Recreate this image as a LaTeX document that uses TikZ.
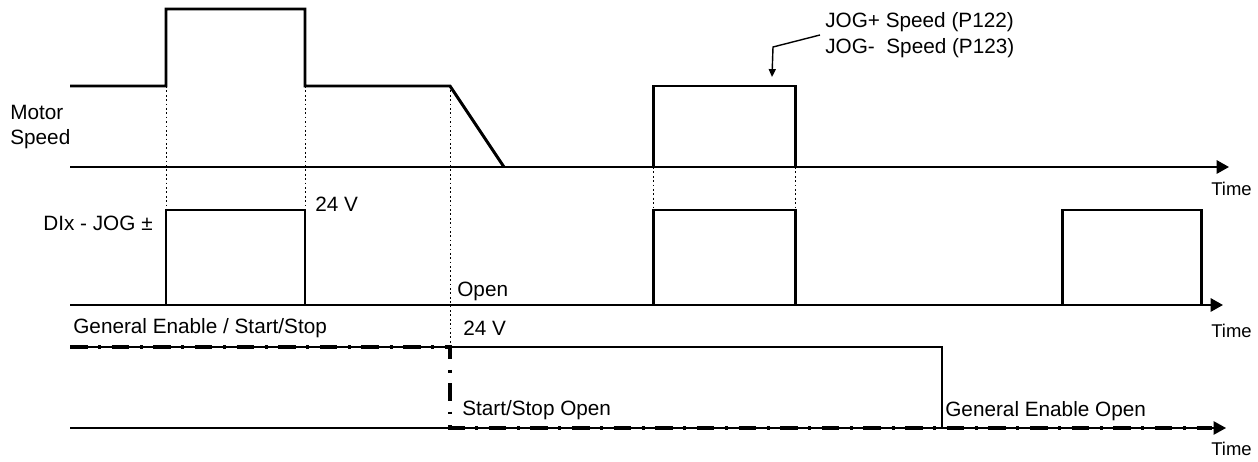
\documentclass[tikz,border=0pt]{standalone}
\usepackage{fontspec}
\setmainfont{Liberation Sans}
\usetikzlibrary{positioning}
\usetikzlibrary{calc}
\usetikzlibrary{arrows.meta}

\tikzset{
  axis/.style={line width=1.3pt, -{Triangle[length=7pt,width=7.5pt]}},
  signal/.style={line width=1.7pt},
  enable/.style={line width=0.9pt},
  startstop/.style={line width=2.4pt, dash pattern=on 10pt off 6pt on 1.7pt off 6pt},
  guide/.style={line width=0.5pt, dash pattern=on 1pt off 1.5pt},
  leader/.style={line width=0.8pt, -{Triangle[length=4.5pt,width=4pt]}},
  lbl/.style={inner sep=0pt, font=\fontsize{11.8}{14.5}\selectfont},
  timelbl/.style={inner sep=0pt, font=\fontsize{10.5}{12}\selectfont}
}

\begin{document}
\begin{tikzpicture}[x=0.02cm, y=-0.02cm]

\useasboundingbox (0,0) rectangle (1258,462);

% Levels (pixels)
\def\xstart{70}
\def\speedzero{167}
\def\speedjog{86}
\def\speedhigh{9}
\def\dizero{305}
\def\dihigh{210}
\def\enzero{428}
\def\enhigh{347}

% guides
\foreach \x/\ya/\yb in {166/86/210, 305/86/210, 653/167/210, 795/167/210, 450/86/347}
  \draw[guide] (\x,\ya) -- (\x,\yb);

% axes
\draw[axis] (\xstart,\speedzero) -- (1229,\speedzero);
\draw[axis] (\xstart,\dizero) -- (1223,\dizero);
\draw[axis, line width=1pt] (\xstart,\enzero) -- (1226,\enzero);

% motor speed
\draw[signal] (\xstart,\speedjog) -- (166,\speedjog) -- (166,\speedhigh) -- (305,\speedhigh)
  -- (305,\speedjog) -- (450,\speedjog) -- (504,\speedzero);
\draw[signal] (653,\speedzero) -- (653,\speedjog) -- (795,\speedjog) -- (795,\speedzero);

% DIx - JOG
\foreach \a/\b in {166/305, 653/795, 1062/1201}
  \draw[signal] (\a,\dizero) -- (\a,\dihigh) -- (\b,\dihigh) -- (\b,\dizero);

% general enable / start-stop
\draw[enable] (\xstart,\enhigh) -- (942,\enhigh) -- (942,\enzero);
\draw[signal] (942,\enzero) -- (1212,\enzero);
\draw[startstop] (\xstart,\enhigh) -- (450,\enhigh) -- (450,\enzero) -- (1212,\enzero);

% labels
\node[lbl, align=left, anchor=west] (motorlbl) at (10,127) {Motor\\Speed};
\node[lbl, anchor=east] (dixlbl) at (153,223) {DIx - JOG ±};
\node[lbl, anchor=west] (voltdix) at (315,204) {24 V};
\node[lbl, anchor=west] (openlbl) at (457,291) {Open};
\node[lbl, anchor=west] (enablelbl) at (73,328) {General Enable / Start/Stop};
\node[lbl, anchor=west] (volten) at (463,328) {24 V};
\node[lbl, anchor=west] (sslbl) at (462,410) {Start/Stop Open};
\node[lbl, anchor=west] (geolbl) at (945,411) {General Enable Open};

\foreach \y/\n in {189/timespeed, 331/timedix, 449/timeen}
  \node[timelbl, anchor=west] (\n) at (1211,\y) {Time};

% jog speed note
\node[lbl, align=left, anchor=west] (joglbl) at (825,35) {JOG+ Speed (P122)\\JOG-\ \ Speed (P123)};
\coordinate (jogtip) at (772,77);
\draw[leader] ($(joglbl.west)+(-5,0)$) -- (773,47) -- (jogtip);

\end{tikzpicture}
\end{document}
